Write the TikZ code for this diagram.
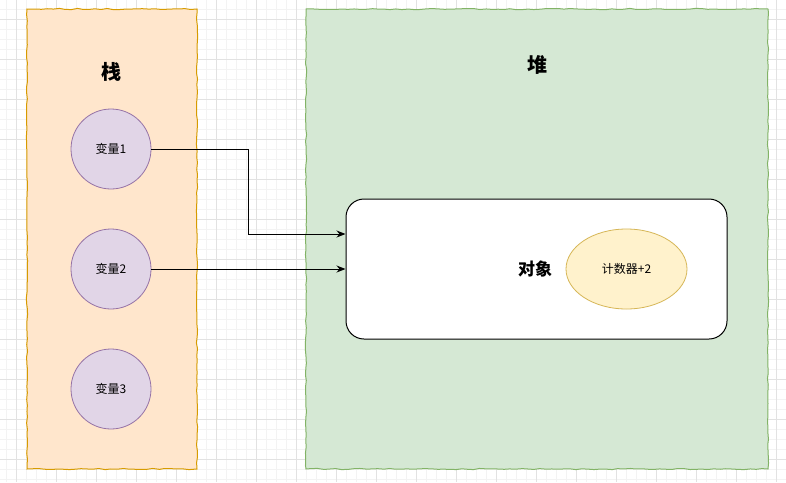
\documentclass[tikz,border=0pt]{standalone}
\usepackage{fontspec}
\setmainfont{Noto Sans CJK SC}
\usetikzlibrary{arrows.meta,decorations.pathmorphing,shapes.geometric}
\definecolor{stackfill}{HTML}{FFE6CC}
\definecolor{stackline}{HTML}{D79B00}
\definecolor{heapfill}{HTML}{D5E8D4}
\definecolor{heapline}{HTML}{82B366}
\definecolor{varfill}{HTML}{E1D5E7}
\definecolor{varline}{HTML}{9673A6}
\definecolor{cntfill}{HTML}{FFF2CC}
\definecolor{cntline}{HTML}{D6B656}
\definecolor{gridminor}{HTML}{F3F3F3}
\definecolor{gridmajor}{HTML}{E2E2E2}
\tikzset{
  sketch/.style={decorate, decoration={random steps, segment length=6pt, amplitude=0.6pt}},
  region/.style={draw, line width=1pt, sketch, inner sep=0pt},
  var/.style={circle, draw=varline, fill=varfill, line width=0.8pt, minimum size=80pt, inner sep=0pt, font=\fontsize{12}{14}\selectfont},
  cnt/.style={ellipse, draw=cntline, fill=cntfill, line width=0.8pt, minimum width=121pt, minimum height=80pt, inner sep=0pt, font=\fontsize{12}{14}\selectfont},
  title/.style={font=\fontsize{20}{24}\selectfont\bfseries},
  objbox/.style={draw=black, fill=white, line width=1pt, rounded corners=18pt, minimum width=381pt, minimum height=140pt, inner sep=0pt},
  arr/.style={-{Stealth[length=9pt,width=7pt]}, line width=1pt, black},
}
\begin{document}
\begin{tikzpicture}[x=1pt,y=-1pt]
\pgfmathsetseed{3}
\useasboundingbox (0,0) rectangle (786,482);
\fill[white] (0,0) rectangle (786,482);
% grid
\foreach \x in {6.7,16.7,...,786} \draw[gridminor, line width=0.8pt] (\x,0) -- (\x,482);
\foreach \y in {9.3,19.3,...,482} \draw[gridminor, line width=0.8pt] (0,\y) -- (786,\y);
\foreach \x in {16.7,56.7,...,786} \draw[gridmajor, line width=0.8pt] (\x,0) -- (\x,482);
\foreach \y in {19.3,59.3,...,482} \draw[gridmajor, line width=0.8pt] (0,\y) -- (786,\y);
% regions
\node[region, draw=stackline, fill=stackfill, minimum width=170pt, minimum height=460pt] (stack) at (112,239) {};
\node[region, draw=heapline, fill=heapfill, minimum width=462pt, minimum height=460pt] (heap) at (537,239) {};
\node[title] (stacklbl) at (111,72) {栈};
\node[title] (heaplbl) at (537,65) {堆};
% variables
\node[var] (v1) at (111,149) {变量1};
\node[var] (v2) at (111,269) {变量2};
\node[var] (v3) at (111,389) {变量3};
% object
\node[objbox] (obj) at (536.5,269) {};
\node[font=\fontsize{17}{20}\selectfont\bfseries] (objlbl) at (535,269) {对象};
\node[cnt] (cnt) at (626.5,269) {计数器+2};
% connectors
\coordinate (k1) at (0,234);
\draw[arr] (v1.east) -- (248,149) -- (248,234) -- (obj.west |- k1);
\draw[arr] (v2.east) -- (obj.west);
\end{tikzpicture}
\end{document}
